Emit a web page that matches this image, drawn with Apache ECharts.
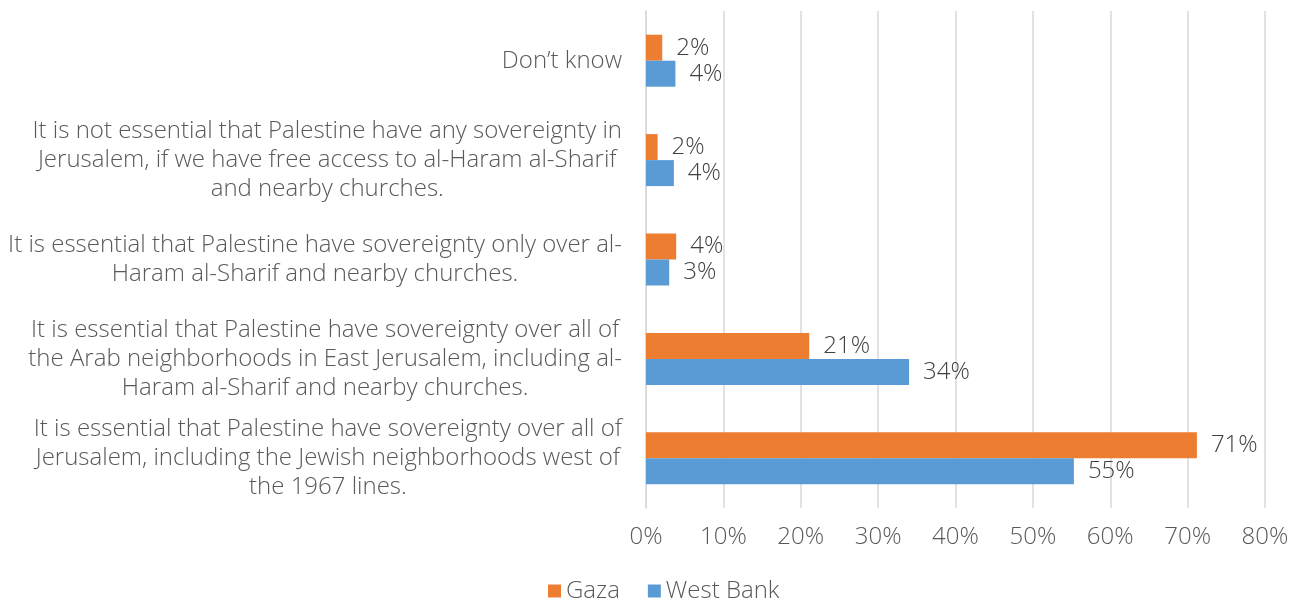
<!DOCTYPE html>
<html>
<head>
<meta charset="utf-8">
<script src="https://cdn.jsdelivr.net/npm/echarts@6/dist/echarts.min.js"></script>
<style>
  html, body { margin: 0; padding: 0; background: #ffffff; }
  #chart { width: 1299px; height: 601px; }
</style>
</head>
<body>
<div id="chart"></div>
<script>
const categories = [
  "Don\u2019t know",
  "It is not essential that Palestine have any sovereignty in\nJerusalem, if we have free access to al-Haram al-Sharif\nand nearby churches.",
  "It is essential that Palestine have sovereignty only over al-\nHaram al-Sharif and nearby churches.",
  "It is essential that Palestine have sovereignty over all of\nthe Arab neighborhoods in East Jerusalem, including al-\nHaram al-Sharif and nearby churches.",
  "It is essential that Palestine have sovereignty over all of\nJerusalem, including the Jewish neighborhoods west of\nthe 1967 lines."
];
const gaza = [2.1, 1.5, 3.9, 21.1, 71.2];
const westBank = [3.8, 3.6, 3.0, 34.0, 55.3];
const xTicks = { min: 0, max: 80, interval: 10 };

const FONT = 'Open Sans';
const WEIGHT = 300;
const FS = 24;
const TEXT = '#595959';

const chart = echarts.init(document.getElementById('chart'));
const labelCfg = {
  show: true,
  position: 'right',
  distance: 14,
  fontFamily: FONT,
  fontWeight: WEIGHT,
  fontSize: FS,
  color: '#404040',
  formatter: p => Math.round(p.value) + '%'
};
chart.setOption({
  animation: false,
  textStyle: { fontFamily: FONT },
  grid: { left: 646, right: 34, top: 11, bottom: 93, containLabel: false },
  legend: {
    bottom: -7,
    left: 543,
    icon: 'rect',
    itemWidth: 13,
    itemHeight: 13,
    itemGap: 28,
    textStyle: { fontFamily: FONT, fontWeight: WEIGHT, fontSize: FS, color: TEXT },
    data: ['Gaza', 'West Bank']
  },
  xAxis: {
    type: 'value',
    min: xTicks.min,
    max: xTicks.max,
    interval: xTicks.interval,
    axisLine: { show: false },
    axisTick: { show: false },
    splitLine: { show: true, lineStyle: { color: '#d9d9d9', width: 1.5 } },
    axisLabel: {
      margin: 17,
      fontFamily: FONT,
      fontWeight: WEIGHT,
      fontSize: FS,
      color: TEXT,
      formatter: '{value}%'
    }
  },
  yAxis: {
    type: 'category',
    inverse: true,
    data: categories,
    axisLine: { show: true, lineStyle: { color: '#d9d9d9', width: 1.5 } },
    axisTick: { show: false },
    axisLabel: {
      margin: 24,
      align: 'right',
      formatter: v => v.split('\n').map(l => '{c|' + l + '}').join('\n'),
      rich: {
        c: { align: 'center', fontFamily: FONT, fontWeight: WEIGHT, fontSize: FS, color: TEXT, lineHeight: 29 }
      }
    }
  },
  series: [
    {
      name: 'Gaza', type: 'bar', data: gaza,
      barWidth: 26, barGap: '0%',
      itemStyle: { color: '#ED7D31' },
      label: labelCfg
    },
    {
      name: 'West Bank', type: 'bar', data: westBank,
      barWidth: 26, barGap: '0%',
      itemStyle: { color: '#5B9BD5' },
      label: labelCfg
    }
  ]
});
</script>
</body>
</html>
